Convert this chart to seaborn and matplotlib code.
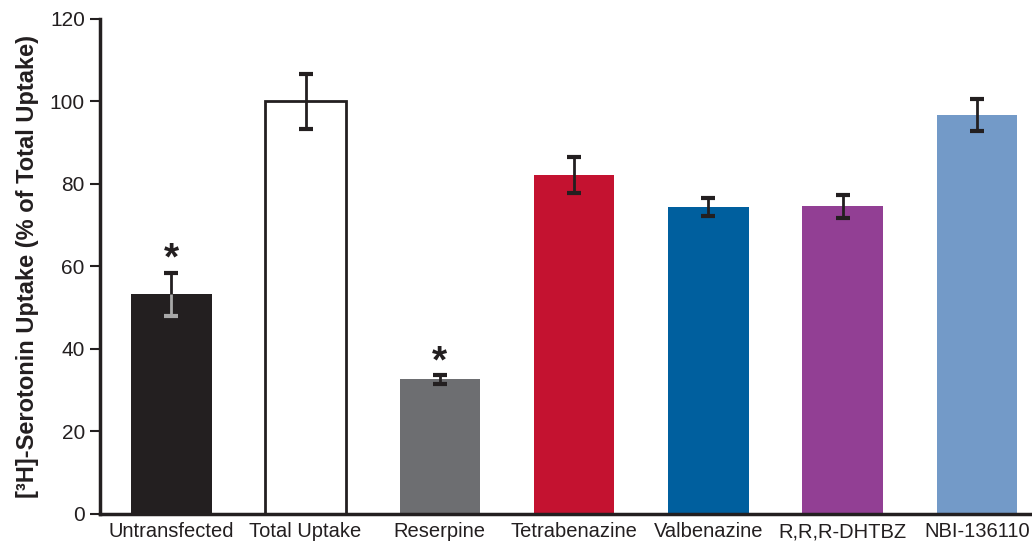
import matplotlib
matplotlib.use("Agg")
import matplotlib.pyplot as plt
import seaborn as sns
import pandas as pd

categories = ["Untransfected", "Total Uptake", "Reserpine", "Tetrabenazine",
              "Valbenazine", "R,R,R-DHTBZ", "NBI-136110"]
values = [53.2, 100.0, 32.6, 82.2, 74.4, 74.6, 96.7]
errors = [5.3, 6.7, 1.0, 4.3, 2.1, 2.8, 3.9]
colors = ["#231f20", "#ffffff", "#6d6e71", "#c41230", "#005f9e", "#923f94", "#739ac8"]
significant = ["Untransfected", "Reserpine"]
yticks = [0, 20, 40, 60, 80, 100, 120]

sns.set_style("white")
plt.rcParams['font.family'] = ['Liberation Sans', 'DejaVu Sans']

df = pd.DataFrame({"cat": categories, "val": values})
fig = plt.figure(figsize=(10.32, 5.55), dpi=100)
ax = fig.add_axes([0.097, 0.074, 0.903, 0.892])

sns.barplot(data=df, x="cat", y="val", hue="cat", palette=colors, legend=False,
            width=0.6, ax=ax, saturation=1)
for i, p in enumerate(ax.patches):
    if categories[i] == "Total Uptake":
        p.set_edgecolor("#231f20")
        p.set_linewidth(2)
    else:
        p.set_linewidth(0)

for i, (v, e) in enumerate(zip(values, errors)):
    cont = ax.errorbar(i, v, yerr=e, fmt="none", ecolor="#231f20",
                       elinewidth=2, capsize=4.8, capthick=3, zorder=5)
    if categories[i] == "Untransfected":
        low_cap = min(cont.lines[1], key=lambda ln: ln.get_ydata()[0])
        low_cap.set_color("#a8a8a8")
        low_cap.set_markeredgecolor("#a8a8a8")
        low_cap.set_zorder(7)
        ax.vlines(i, v - e, v, color="#a8a8a8", lw=2, zorder=6)
    if categories[i] in significant:
        ax.text(i, v + e + 3.2, "*", ha="center", va="center",
                fontsize=28, fontweight="bold", color="#231f20")

ax.set_xlim(-0.53, 6.41)
ax.set_ylim(0, 120)
ax.set_yticks(yticks)
ax.set_xlabel("")
ax.set_ylabel("[\u00b3H]-Serotonin Uptake (% of Total Uptake)", fontsize=17,
              fontweight="bold", color="#231f20", labelpad=8)
for s in ["top", "right"]:
    ax.spines[s].set_visible(False)
for s in ["left", "bottom"]:
    ax.spines[s].set_linewidth(2.5)
    ax.spines[s].set_color("#231f20")
ax.tick_params(axis="y", direction="out", length=7, width=1.5, colors="#231f20",
               labelsize=15, pad=4, left=True)
ax.tick_params(axis="x", length=0, labelsize=14.5, colors="#231f20", pad=6)

fig.savefig("out.png", dpi=100)
